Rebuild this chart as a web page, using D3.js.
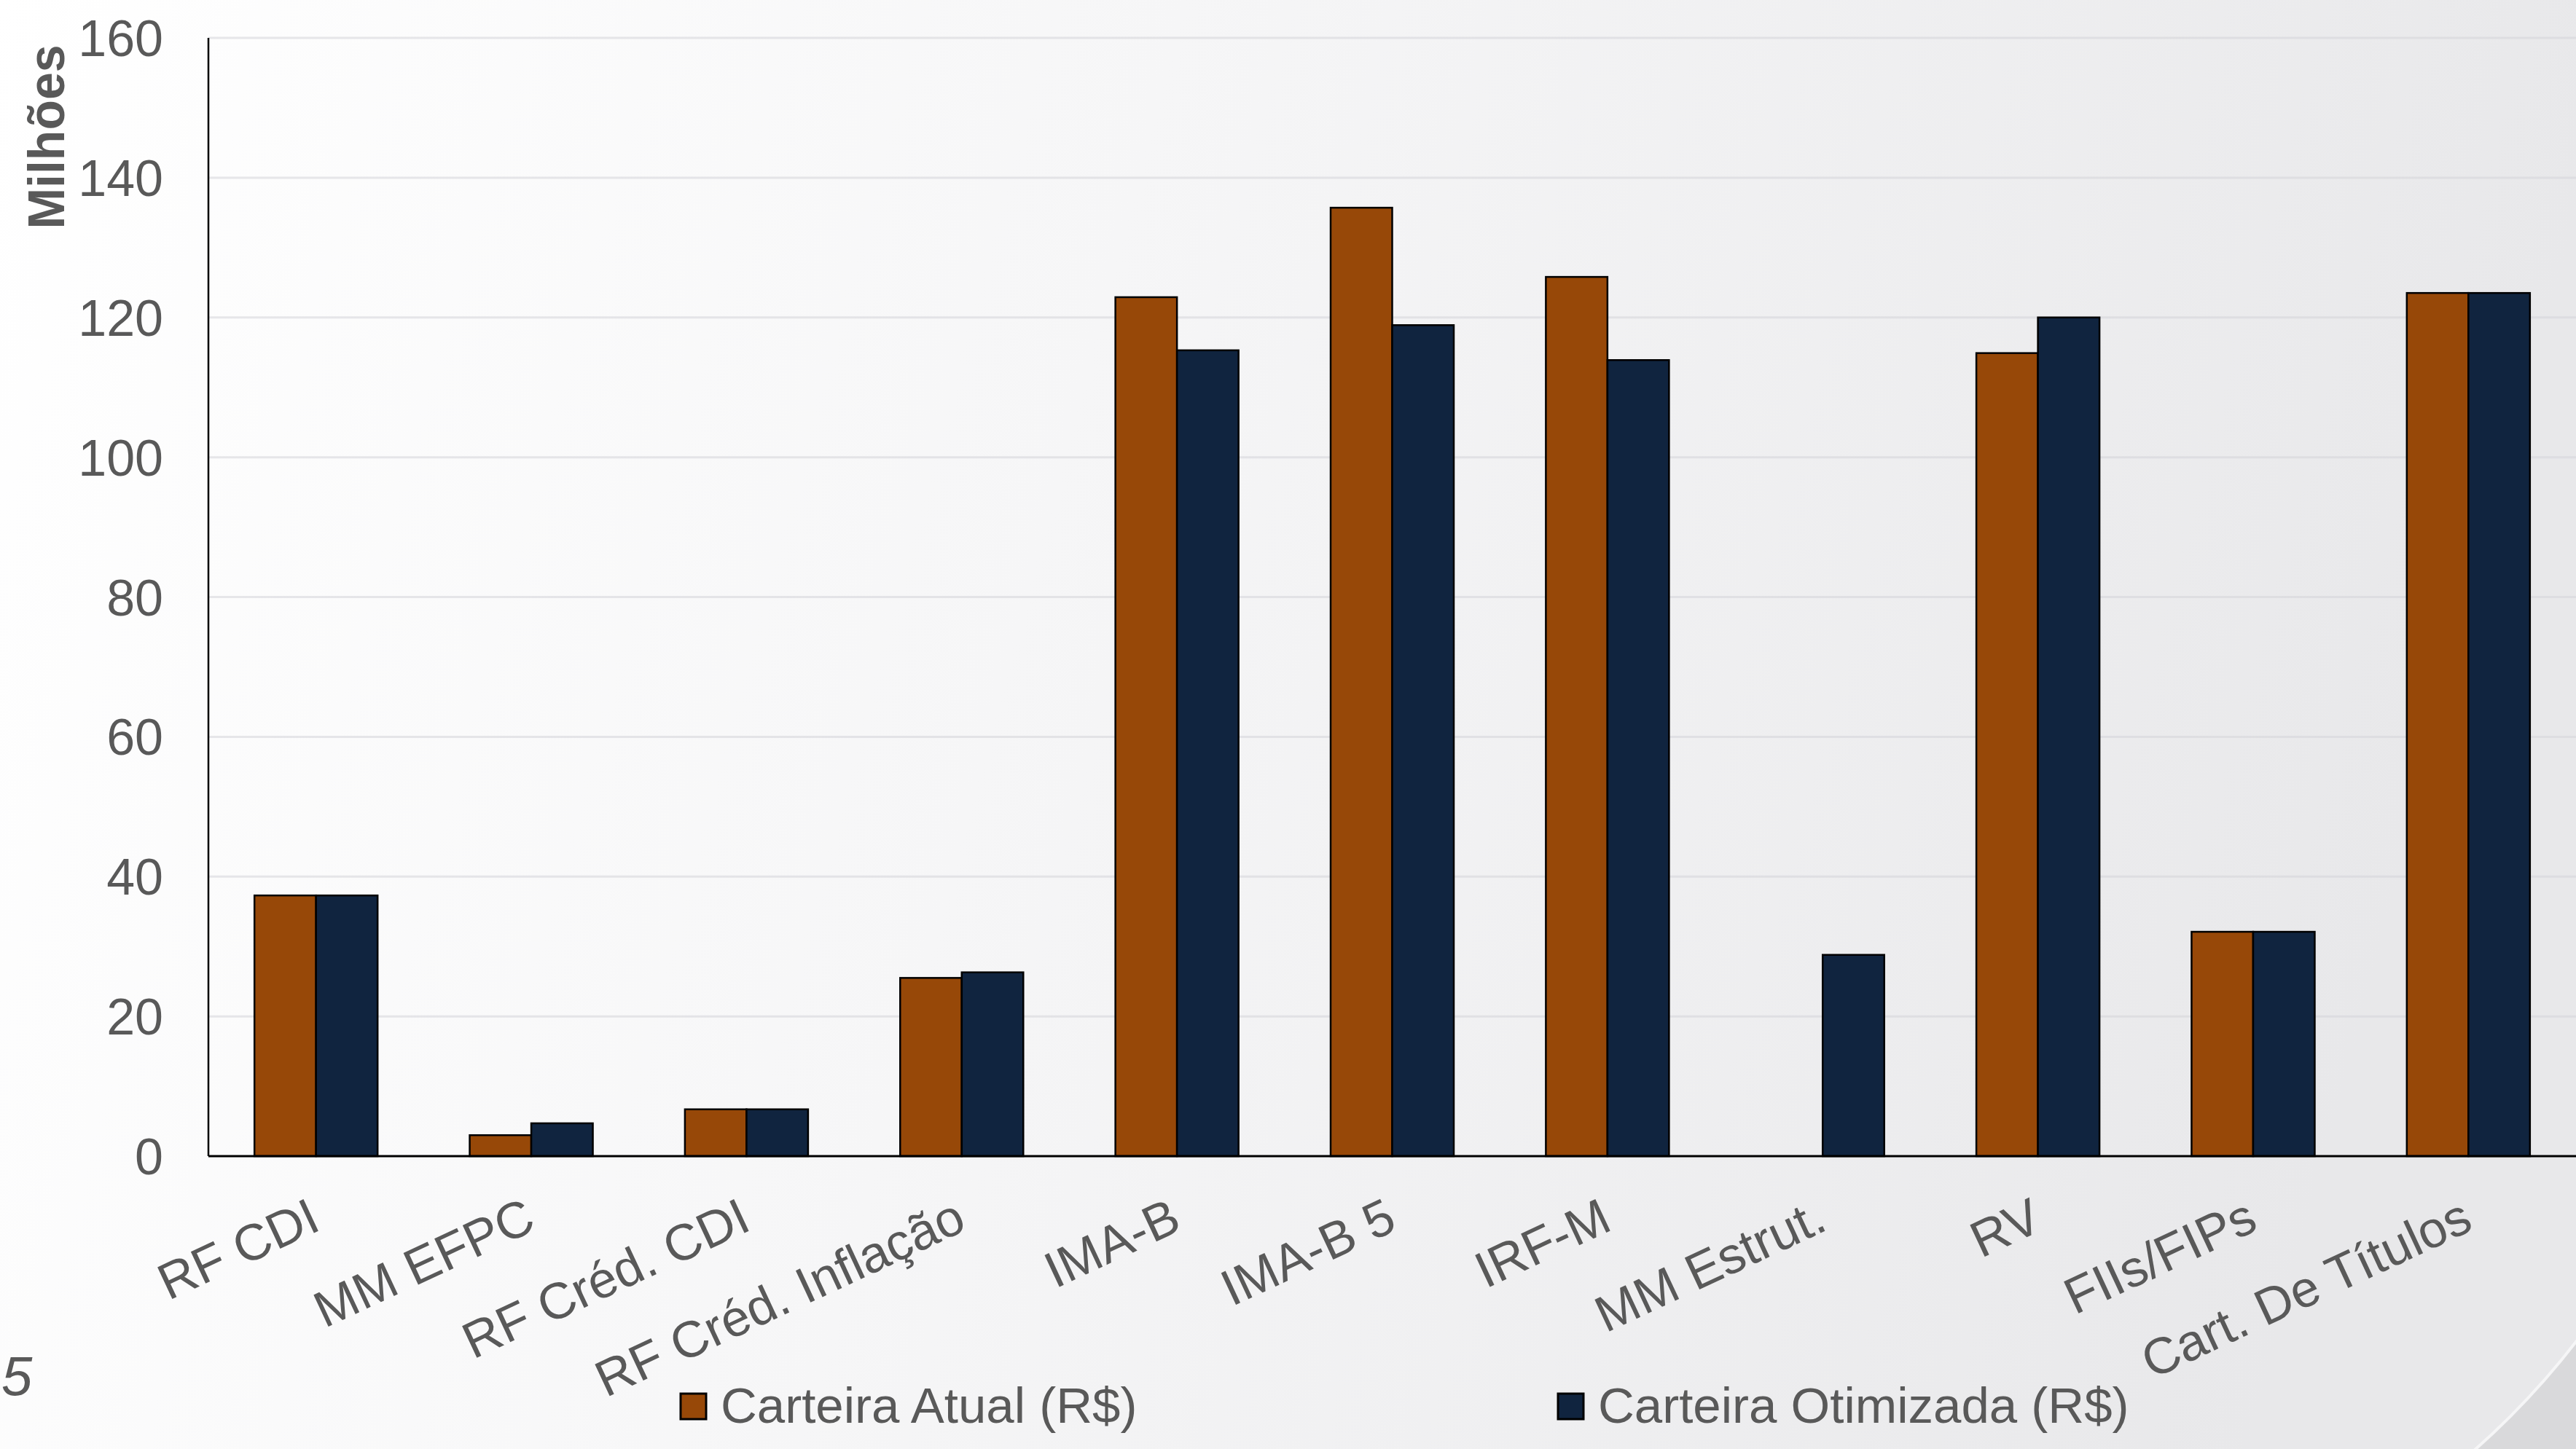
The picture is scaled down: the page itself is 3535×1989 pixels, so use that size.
<!DOCTYPE html>
<html>
<head>
<meta charset="utf-8">
<script src="https://cdn.jsdelivr.net/npm/d3@7"></script>
<style>
  html, body { margin: 0; padding: 0; overflow: hidden; background: #ffffff; }
  svg { display: block; }
</style>
</head>
<body>
<script>
// ---- data ----
const categories = ["RF CDI", "MM EFPC", "RF Créd. CDI", "RF Créd. Inflação", "IMA-B", "IMA-B 5", "IRF-M", "MM Estrut.", "RV", "FIIs/FIPs", "Cart. De Títulos"];
const seriesNames = ["Carteira Atual (R$)", "Carteira Otimizada (R$)"];
const carteiraAtual = [37.3, 3.0, 6.7, 25.5, 122.9, 135.7, 125.8, 0, 114.9, 32.1, 123.5];
const carteiraOtimizada = [37.3, 4.7, 6.7, 26.3, 115.3, 118.9, 113.9, 28.8, 120.0, 32.1, 123.5];
const yTicks = [0, 20, 40, 60, 80, 100, 120, 140, 160];
const yTitle = "Milhões";
const pageNumber = "5";

(function () {
// ---- layout ----
const W = 3535, H = 1989;
const FONT = "'Liberation Sans', Arial, sans-serif";
const TEXT = "#595959";
const COLORS = ["#974808", "#10243F"];

const svg = d3.select("body").append("svg").attr("width", W).attr("height", H);
const defs = svg.append("defs");

const grad = defs.append("linearGradient").attr("id", "bg").attr("x1", 0).attr("y1", 0).attr("x2", 1).attr("y2", 0.15);
grad.append("stop").attr("offset", "0").attr("stop-color", "#ffffff");
grad.append("stop").attr("offset", "0.45").attr("stop-color", "#f6f6f7");
grad.append("stop").attr("offset", "1").attr("stop-color", "#e8e8ea");
svg.append("rect").attr("width", W).attr("height", H).attr("fill", "url(#bg)");

// corner decoration (outside of a large circle)
const cx0 = 2700, cy0 = 1200, r0 = 1053;
const clip = defs.append("clipPath").attr("id", "outside");
clip.append("path").attr("clip-rule", "evenodd")
  .attr("d", `M0,0H${W}V${H}H0Z M${cx0 - r0},${cy0} a${r0},${r0} 0 1,0 ${2 * r0},0 a${r0},${r0} 0 1,0 ${-2 * r0},0Z`);
defs.append("clipPath").attr("id", "corner")
  .append("rect").attr("x", 3250).attr("y", 1780).attr("width", 285).attr("height", 209);
svg.append("rect").attr("x", 3000).attr("y", 1600).attr("width", 535).attr("height", 389)
  .attr("fill", "#d9d9db").attr("clip-path", "url(#outside)");
svg.append("g").attr("clip-path", "url(#corner)")
  .append("circle").attr("cx", cx0).attr("cy", cy0).attr("r", r0)
  .attr("fill", "none").attr("stroke", "#f7f7f8").attr("stroke-width", 4).attr("opacity", 0.9);

// scales
const pLeft = 286, pRight = 3535, pTop = 52, pBottom = 1587;
const x0 = d3.scaleBand().domain(categories).range([pLeft, pRight]).padding(0);
const groupW = 169;
const x1 = d3.scaleBand().domain(seriesNames).range([0, groupW]).padding(0);
const y = d3.scaleLinear().domain([0, 160]).range([pBottom, pTop]);

// gridlines
svg.append("g").selectAll("line").data(yTicks.filter(d => d > 0)).join("line")
  .attr("x1", pLeft).attr("x2", pRight)
  .attr("y1", d => y(d)).attr("y2", d => y(d))
  .attr("stroke", "#d4d4d8").attr("stroke-opacity", 0.55).attr("stroke-width", 3);

// bars
const rows = categories.map((c, i) => ({ cat: c, vals: [carteiraAtual[i], carteiraOtimizada[i]] }));
const offset = (x0.bandwidth() - groupW) / 2;
const groups = svg.append("g").selectAll("g").data(rows).join("g")
  .attr("transform", d => `translate(${x0(d.cat) + offset},0)`);
groups.selectAll("rect").data(d => d.vals.map((v, k) => ({ v, k })).filter(e => e.v > 0)).join("rect")
  .attr("x", e => x1(seriesNames[e.k]))
  .attr("width", x1.bandwidth())
  .attr("y", e => y(e.v))
  .attr("height", e => y(0) - y(e.v))
  .attr("fill", e => COLORS[e.k])
  .attr("stroke", "#000").attr("stroke-width", 2.5);

// y axis
const yAxis = svg.append("g").attr("transform", `translate(${pLeft},0)`)
  .call(d3.axisLeft(y).tickValues(yTicks).tickSize(0).tickPadding(62).tickFormat(d3.format("d")));
yAxis.select(".domain").remove();
yAxis.selectAll("text").attr("font-family", FONT).attr("font-size", 70).attr("fill", TEXT).attr("dy", "0.35em");
svg.append("line").attr("x1", pLeft).attr("x2", pLeft).attr("y1", pTop).attr("y2", pBottom)
  .attr("stroke", "#000").attr("stroke-width", 2.5);

// x axis
const xAxis = svg.append("g").attr("transform", `translate(0,${pBottom})`)
  .call(d3.axisBottom(x0).tickSize(0));
xAxis.select(".domain").remove();
xAxis.selectAll("text")
  .attr("font-family", FONT).attr("font-size", 70).attr("fill", TEXT)
  .attr("text-anchor", "end").attr("x", 0).attr("y", 0).attr("dy", 0)
  .attr("transform", "translate(9,100) rotate(-25)");
svg.append("line").attr("x1", pLeft).attr("x2", pRight).attr("y1", pBottom).attr("y2", pBottom)
  .attr("stroke", "#000").attr("stroke-width", 3);

// y title
svg.append("text")
  .attr("transform", "translate(88,188) rotate(-90)")
  .attr("text-anchor", "middle")
  .attr("font-family", FONT).attr("font-weight", "bold").attr("font-size", 70)
  .attr("textLength", 253).attr("lengthAdjust", "spacingAndGlyphs")
  .attr("fill", TEXT).text(yTitle);

// legend
const legendX = [934, 2138];
const leg = svg.append("g").selectAll("g").data(seriesNames).join("g")
  .attr("transform", (d, i) => `translate(${legendX[i]},0)`);
leg.append("rect").attr("x", 0).attr("y", 1913).attr("width", 35).attr("height", 35)
  .attr("fill", (d, i) => COLORS[i]).attr("stroke", "#000").attr("stroke-width", 3);
leg.append("text").attr("x", 55).attr("y", 1953)
  .attr("font-family", FONT).attr("font-size", 69).attr("fill", TEXT).text(d => d);

// page number fragment
svg.append("text").attr("x", 2).attr("y", 1915)
  .attr("font-family", FONT).attr("font-size", 76).attr("font-style", "italic")
  .attr("fill", TEXT).text(pageNumber);
})();
</script>
</body>
</html>
